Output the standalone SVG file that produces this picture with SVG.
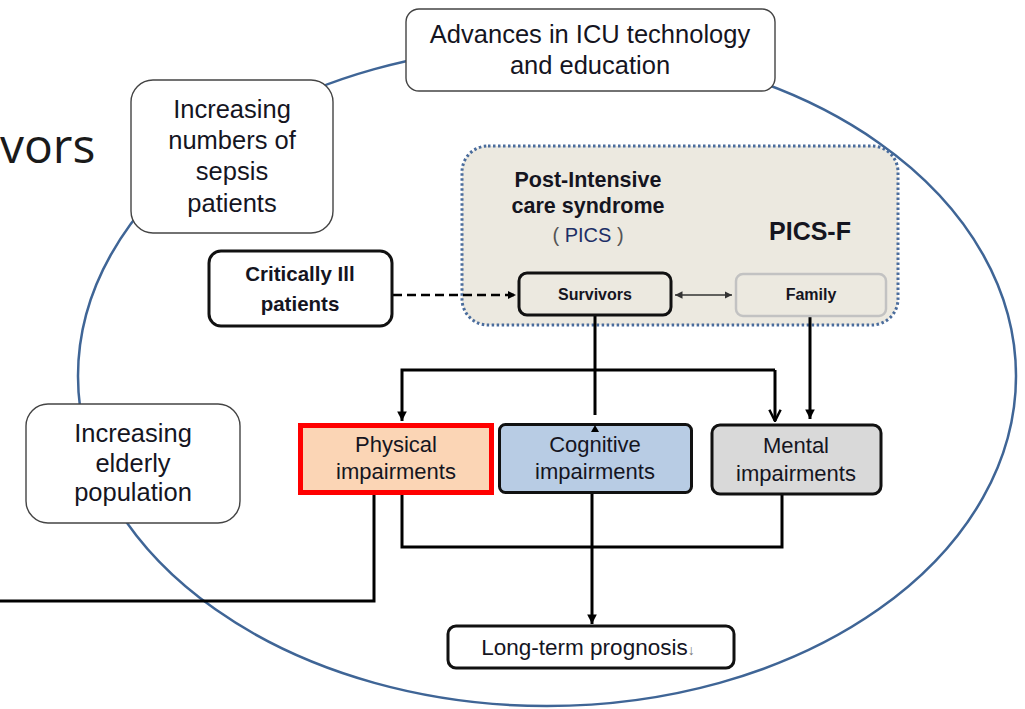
<svg xmlns="http://www.w3.org/2000/svg" width="1025" height="709" viewBox="0 0 1025 709">
  <defs>
    <style>
      .t { font-family: "Liberation Sans", Arial, sans-serif; fill: #15151f; text-anchor: middle; }
      .b { font-weight: bold; }
      .soft { fill: #ffffff; stroke: #444; stroke-width: 1.4; }
      .hard { stroke: #111; stroke-width: 3; }
      .wire { fill: none; stroke: #000; stroke-width: 3; }
    </style>
    <marker id="tri" viewBox="0 0 10 10" refX="10" refY="5" markerWidth="3.2" markerHeight="3.2" orient="auto" markerUnits="strokeWidth">
      <path d="M0,0 L10,5 L0,10 Z" fill="#000"/>
    </marker>
    <marker id="triSmall" viewBox="0 0 10 10" refX="10" refY="5" markerWidth="5" markerHeight="5" orient="auto-start-reverse" markerUnits="strokeWidth">
      <path d="M0,0 L10,5 L0,10 Z" fill="#333"/>
    </marker>
    <marker id="vee" viewBox="0 0 12 12" refX="11" refY="6" markerWidth="4.5" markerHeight="4.5" orient="auto" markerUnits="strokeWidth">
      <path d="M1,1 L11,6 L1,11" fill="none" stroke="#000" stroke-width="2.2"/>
    </marker>
  </defs>

  <rect width="1025" height="709" fill="#ffffff"/>

  <!-- partial heading at the left edge -->
  <text x="0" y="163" font-family="'Open Sans', 'Noto Sans', sans-serif" font-size="48" fill="#1a1a1a">vors</text>

  <!-- outer context ellipse -->
  <ellipse cx="547" cy="376" rx="469" ry="330" fill="none" stroke="#3f6596" stroke-width="2.5"/>

  <!-- PICS / PICS-F region -->
  <g id="pics">
    <rect x="462" y="146" width="436" height="179" rx="26" fill="#ece9e0" stroke="#4a6c9c" stroke-width="3" stroke-dasharray="2.5 2.5"/>
    <text class="t b" x="588" y="187" font-size="21.5">Post-Intensive</text>
    <text class="t b" x="588" y="213" font-size="21.5">care syndrome</text>
    <text class="t" x="588" y="242" font-size="20"><tspan fill="#555">( </tspan><tspan fill="#1d2f66">PICS</tspan><tspan fill="#555"> )</tspan></text>
    <text class="t b" x="810" y="240" font-size="25">PICS-F</text>
  </g>

  <!-- connectors -->
  <g id="connectors">
    <line x1="393" y1="295" x2="516" y2="295" stroke="#000" stroke-width="2.5" stroke-dasharray="9 5" marker-end="url(#tri)"/>
    <line x1="675" y1="295" x2="732" y2="295" stroke="#333" stroke-width="1.5" marker-start="url(#triSmall)" marker-end="url(#triSmall)"/>
    <line x1="595" y1="315" x2="595" y2="415" class="wire"/>
    <path d="M775,370 H402 V421" class="wire" marker-end="url(#tri)"/>
    <path d="M775,370 V421" class="wire" marker-end="url(#vee)"/>
    <line x1="810" y1="317" x2="810" y2="419" class="wire" marker-end="url(#tri)"/>
    <path d="M402,495 V547 H782 V495" class="wire"/>
    <line x1="592" y1="494" x2="592" y2="624" class="wire" marker-end="url(#tri)"/>
    <path d="M374,495 V601 H0" class="wire"/>
  </g>

  <!-- context boxes -->
  <g id="advances">
    <rect x="406" y="9" width="369" height="82" rx="13" class="soft"/>
    <text class="t" x="590" y="43" font-size="25.5">Advances in ICU technology</text>
    <text class="t" x="590" y="74" font-size="25.5">and education</text>
  </g>

  <g id="sepsis">
    <rect x="131" y="80" width="202" height="153" rx="22" class="soft"/>
    <text class="t" x="232" y="118" font-size="25.5">Increasing</text>
    <text class="t" x="232" y="149" font-size="25.5">numbers of</text>
    <text class="t" x="232" y="180" font-size="25.5">sepsis</text>
    <text class="t" x="232" y="212" font-size="25.5">patients</text>
  </g>

  <g id="elderly">
    <rect x="26" y="404" width="214" height="119" rx="22" class="soft"/>
    <text class="t" x="133" y="442" font-size="25.5">Increasing</text>
    <text class="t" x="133" y="472" font-size="25.5">elderly</text>
    <text class="t" x="133" y="501" font-size="25.5">population</text>
  </g>

  <g id="critically-ill">
    <rect x="209" y="251" width="183" height="75" rx="12" fill="#ffffff" class="hard"/>
    <text class="t b" x="300" y="281" font-size="20.5">Critically Ill</text>
    <text class="t b" x="300" y="311" font-size="20.5">patients</text>
  </g>

  <g id="survivors">
    <rect x="519" y="273" width="152" height="42" rx="8" fill="#ece9e0" class="hard"/>
    <text class="t b" x="595" y="300" font-size="16">Survivors</text>
  </g>

  <g id="family">
    <rect x="736" y="274" width="150" height="42" rx="7" fill="#ece9e0" stroke="#c2c2c2" stroke-width="2.5"/>
    <text class="t b" x="811" y="300" font-size="16">Family</text>
  </g>

  <!-- impairment boxes -->
  <g id="physical">
    <rect x="300.5" y="425.5" width="191" height="67" fill="#fbd5b5" stroke="#ff0000" stroke-width="5"/>
    <text class="t" x="396" y="452" font-size="22">Physical</text>
    <text class="t" x="396" y="479" font-size="22">impairments</text>
  </g>

  <g id="cognitive">
    <rect x="499.5" y="424.5" width="192" height="68" rx="6" fill="#b8cce4" class="hard"/>
    <path d="M595,425 L599,432 L591,432 Z" fill="#000"/>
    <text class="t" x="595" y="452" font-size="22">Cognitive</text>
    <text class="t" x="595" y="479" font-size="22">impairments</text>
  </g>

  <g id="mental">
    <rect x="712" y="425" width="169" height="69" rx="8" fill="#d9d9d9" class="hard"/>
    <text class="t" x="796" y="453" font-size="22">Mental</text>
    <text class="t" x="796" y="481" font-size="22">impairments</text>
  </g>

  <g id="prognosis">
    <rect x="448" y="626" width="286" height="42" rx="8" fill="#ffffff" class="hard"/>
    <text class="t" x="588" y="655" font-size="22.5">Long-term prognosis<tspan font-size="14" fill="#777">↓</tspan></text>
  </g>
</svg>
